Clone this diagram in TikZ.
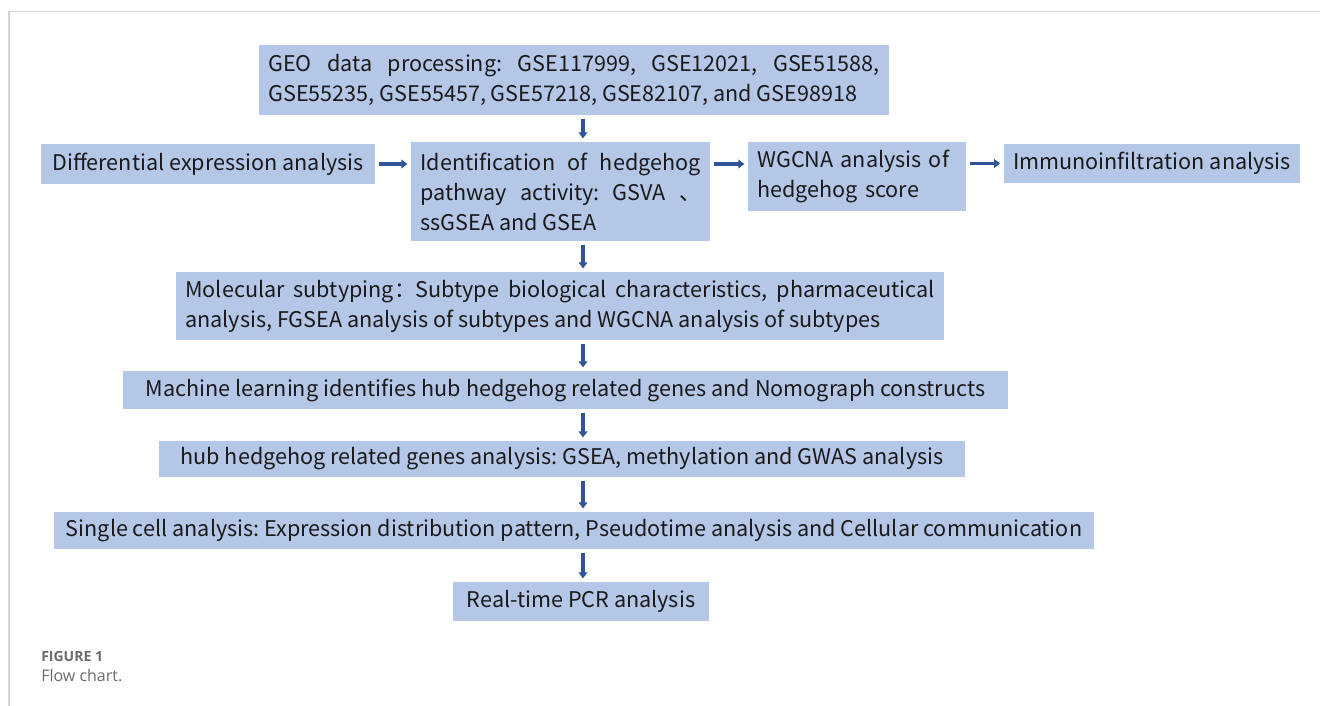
\documentclass[tikz,border=0pt]{standalone}
\usepackage{fontspec}
\usepackage{xcolor}
\usepackage{tikz}
\usetikzlibrary{arrows.meta, positioning, calc}
\newfontfamily\boxfont{Noto Sans CJK SC}
\newfontfamily\capfont{Open Sans}
\definecolor{fcBlueLight}{HTML}{B4C7E7}
\definecolor{fcBlueDark}{HTML}{2F5597}
\definecolor{fcText}{HTML}{1A1A1A}
\definecolor{fcFrame}{HTML}{D6D6D6}
\definecolor{fcCaption}{HTML}{6B6B6B}
\frenchspacing

\begin{document}
\begin{tikzpicture}[
  x=0.75pt, y=-0.75pt,
  %% --- Node styles ---
  stepbox/.style={
    rectangle, fill=fcBlueLight, draw=none,
    font=\boxfont\fontsize{16.2}{22.5}\selectfont, text=fcText,
    inner xsep=7pt, inner ysep=0pt, anchor=center
  },
  stepboxML/.style={
    stepbox, align=justify
  },
  %% --- Arrow style ---
  arrow/.style={-{Triangle[length=4.5pt, width=6.5pt]}, line width=2.8pt,
    draw=fcBlueDark, shorten >=2.5pt, shorten <=2.5pt},
  caption/.style={anchor=west, inner sep=0pt, text=fcCaption}
]

%% =========================================================
%% PAGE FRAME
%% =========================================================
\fill[white] (0,0) rectangle (1320,706);
\useasboundingbox (0,0) rectangle (1320,706);
\draw[fcFrame, line width=1.4pt] (1320,11.5) -- (9,11.5) -- (9,706);

%% =========================================================
%% NODES — main column
%% =========================================================
\node (geo)    [stepboxML, minimum width=472.5pt, minimum height=52.5pt,
                text width=458.5pt] at (574,80)
      {GEO data processing: GSE117999, GSE12021, GSE51588,\linebreak
       GSE55235, GSE55457, GSE57218, GSE82107, and GSE98918};
\node (ident)  [stepboxML, minimum width=224.25pt, minimum height=74.25pt,
                text width=210.25pt] at (560.5,191.5)
      {Identification of hedgehog\linebreak
       pathway activity: GSVA 、\linebreak
       ssGSEA and GSEA};
\node (mol)    [stepboxML, minimum width=576pt, minimum height=51pt,
                text width=562pt] at (560,306)
      {Molecular subtyping：Subtype biological characteristics, pharmaceutical\linebreak
       analysis, FGSEA analysis of subtypes and WGCNA analysis of subtypes};
\node (ml)     [stepbox, minimum width=663.75pt, minimum height=28.5pt] at (565.5,390)
      {Machine learning identifies hub hedgehog related genes and Nomograph constructs};
\node (hub)    [stepbox, minimum width=604.5pt, minimum height=27pt] at (562,459)
      {hub hedgehog related genes analysis: GSEA, methylation and GWAS analysis};
\node (sc)     [stepbox, minimum width=780pt, minimum height=27.75pt] at (574,530.5)
      {Single cell analysis: Expression distribution pattern, Pseudotime analysis and Cellular communication};
\node (pcr)    [stepbox, minimum width=192pt, minimum height=29.25pt] at (581,601.5)
      {Real-time PCR analysis};

%% =========================================================
%% SIDE NODES — row of the second step
%% =========================================================
\node (diff)   [stepbox, minimum width=250.5pt, minimum height=30pt] at (208,164)
      {Differential expression analysis};
\node (wgcna)  [stepboxML, align=left, minimum width=163.5pt, minimum height=51.75pt,
                text width=149.5pt] at (857,176.5)
      {WGCNA analysis of\\hedgehog score};
\node (immuno) [stepbox, minimum width=222pt, minimum height=29.25pt] at (1152,163.5)
      {Immunoinfiltration analysis};

\coordinate (spine) at (583,0);

%% =========================================================
%% MAIN SPINE ARROWS
%% =========================================================
\draw[arrow] (geo.south -| spine)   -- (ident.north -| spine);
\draw[arrow] (ident.south -| spine) -- (mol.north -| spine);
\draw[arrow] (mol.south -| spine)   -- (ml.north -| spine);
\draw[arrow] (ml.south -| spine)    -- (hub.north -| spine);
\draw[arrow] (hub.south -| spine)   -- (sc.north -| spine);
\draw[arrow] (sc.south -| spine)    -- (pcr.north -| spine);

%% =========================================================
%% ROW ARROWS
%% =========================================================
\draw[arrow] (diff.east) -- (diff.east -| ident.west);
\draw[arrow] (diff.east -| ident.east) -- (diff.east -| wgcna.west);
\draw[arrow] (immuno.west -| wgcna.east) -- (immuno.west);

%% =========================================================
%% CAPTION
%% =========================================================
\node (figno) [caption, font=\capfont\bfseries\fontsize{10.5}{12}\selectfont] at (41,656) {FIGURE 1};
\node (figcap) [caption, font=\capfont\fontsize{12}{14}\selectfont] at (41,676) {Flow chart.};

\end{tikzpicture}
\end{document}
